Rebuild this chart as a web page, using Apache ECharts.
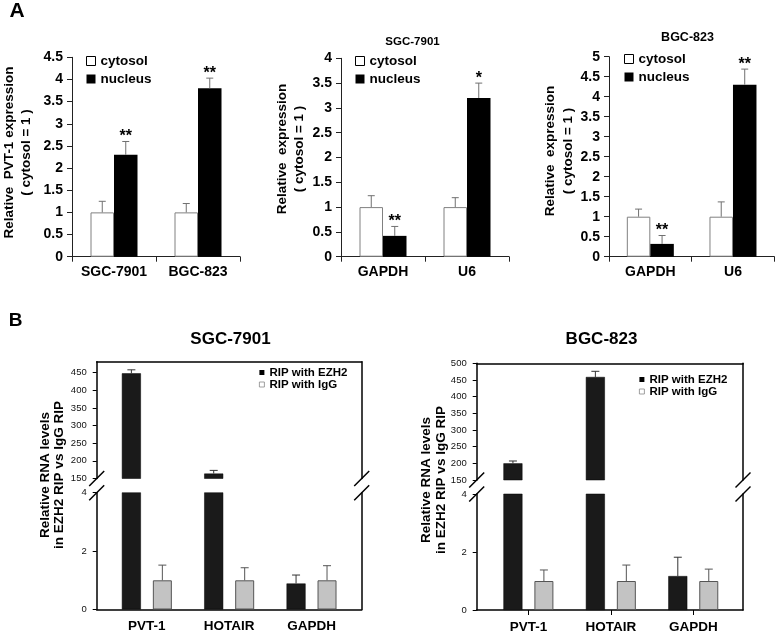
<!DOCTYPE html>
<html><head><meta charset="utf-8">
<script src="https://cdn.jsdelivr.net/npm/echarts@6/dist/echarts.min.js"></script>
<style>html,body{margin:0;padding:0;background:#fff}#c{width:778px;height:637px}</style>
</head><body><div id="c"></div>
<script>
// ---------- Panel A (left): PVT-1 ----------
var a1Categories = ['SGC-7901', 'BGC-823'];
var a1Cytosol = [1, 1];
var a1CytosolErr = [0.25, 0.2];
var a1Nucleus = [2.3, 3.8];
var a1NucleusErr = [0.3, 0.23];
var a1Stars = ['**', '**'];
var a1YTicks = [0, 0.5, 1, 1.5, 2, 2.5, 3, 3.5, 4, 4.5];

// ---------- Panel A (middle): SGC-7901 ----------
var a2Categories = ['GAPDH', 'U6'];
var a2Cytosol = [1, 1];
var a2CytosolErr = [0.23, 0.19];
var a2Nucleus = [0.42, 3.2];
var a2NucleusErr = [0.19, 0.3];
var a2Stars = ['**', '*'];
var a2YTicks = [0, 0.5, 1, 1.5, 2, 2.5, 3, 3.5, 4];

// ---------- Panel A (right): BGC-823 ----------
var a3Categories = ['GAPDH', 'U6'];
var a3Cytosol = [1, 1];
var a3CytosolErr = [0.19, 0.37];
var a3Nucleus = [0.32, 4.3];
var a3NucleusErr = [0.21, 0.39];
var a3Stars = ['**', '**'];
var a3YTicks = [0, 0.5, 1, 1.5, 2, 2.5, 3, 3.5, 4, 4.5, 5];

// ---------- Panel B (left): SGC-7901 RIP ----------
var b1Categories = ['PVT-1', 'HOTAIR', 'GAPDH'];
var b1Ezh2 = [448, 164, 0.89];
var b1Ezh2Err = [10, 9, 0.29];
var b1IgG = [1, 1, 1];
var b1IgGErr = [0.52, 0.43, 0.5];
var b1UpperTicks = [150, 200, 250, 300, 350, 400, 450];
var b1UpperMax = 481;
var b1LowerTicks = [0, 2, 4];

// ---------- Panel B (right): BGC-823 RIP ----------
var b2Categories = ['PVT-1', 'HOTAIR', 'GAPDH'];
var b2Ezh2 = [200, 459, 1.17];
var b2Ezh2Err = [7, 17, 0.65];
var b2IgG = [1, 1, 1];
var b2IgGErr = [0.38, 0.55, 0.41];
var b2UpperTicks = [150, 200, 250, 300, 350, 400, 450, 500];
var b2UpperMax = 500;
var b2LowerTicks = [0, 2, 4];

var FONT = "'Liberation Sans', Arial, Helvetica, sans-serif";
var option = {
  backgroundColor: '#fff', animation: false,
  grid: [], xAxis: [], yAxis: [], series: [], legend: [], graphic: []
};

function addGrid(r) {
  option.grid.push(Object.assign({ containLabel: false, outerBoundsMode: 'none', show: false }, r));
  return option.grid.length - 1;
}

function errorSeries(xi, yi, data, stars, o) {
  return {
    type: 'custom', xAxisIndex: xi, yAxisIndex: yi, data: data, silent: true, z: 5,
    renderItem: function (params, api) {
      var c = api.value(0), v = api.value(1), t = api.value(2), side = api.value(3);
      var b = api.coord([c, v]), e = api.coord([c, t]);
      var x = b[0] + side * o.offset;
      var col = side < 0 ? o.colors[0] : o.colors[1];
      var ch = [
        { type: 'line', shape: { x1: x, y1: b[1], x2: x, y2: e[1] }, style: { stroke: col, lineWidth: 1 } },
        { type: 'line', shape: { x1: x - o.cap / 2, y1: e[1], x2: x + o.cap / 2, y2: e[1] }, style: { stroke: col, lineWidth: 1 } }
      ];
      var s = stars && stars[params.dataIndex];
      if (s) {
        ch.push({ type: 'text', x: x, y: e[1] - o.starGap,
          style: { text: s, fill: '#000', font: 'bold ' + o.starSize + 'px ' + FONT,
                   align: 'center', verticalAlign: 'middle', textAlign: 'center', textVerticalAlign: 'middle' } });
      }
      return { type: 'group', children: ch };
    }
  };
}

function panelA(p) {
  var g = addGrid(p.rect);
  var xi = option.xAxis.length;
  option.xAxis.push({
    type: 'category', gridIndex: g, data: p.cats,
    axisLine: { lineStyle: { color: '#222', width: 1 } },
    axisTick: { show: true, length: 5, lineStyle: { color: '#222' } },
    axisLabel: { interval: 0, hideOverlap: false, fontFamily: FONT, fontWeight: 'bold', fontSize: 14, color: '#000', margin: 8 }
  });
  var yi = option.yAxis.length;
  option.yAxis.push({
    type: 'value', gridIndex: g, min: p.ticks[0], max: p.ticks[p.ticks.length - 1],
    interval: p.ticks[1] - p.ticks[0], splitLine: { show: false },
    axisLine: { show: true, lineStyle: { color: '#222', width: 1 } },
    axisTick: { show: true, length: 5, lineStyle: { color: '#222' } },
    axisLabel: { fontFamily: FONT, fontWeight: 'bold', fontSize: 14, color: '#000', margin: 9 }
  });
  var bw = 23.5;
  option.series.push({ type: 'bar', name: 'cytosol', xAxisIndex: xi, yAxisIndex: yi, data: p.cyt,
    barWidth: bw, barGap: '0%', itemStyle: { color: '#fff', borderColor: '#808080', borderWidth: 1 } });
  option.series.push({ type: 'bar', name: 'nucleus', xAxisIndex: xi, yAxisIndex: yi, data: p.nuc,
    barWidth: bw, barGap: '0%', itemStyle: { color: '#000' } });
  var errData = [], stars = [];
  p.cats.forEach(function (c, i) {
    errData.push([i, p.cyt[i], p.cyt[i] + p.cytErr[i], -1]); stars.push('');
    errData.push([i, p.nuc[i], p.nuc[i] + p.nucErr[i], 1]); stars.push(p.stars[i]);
  });
  option.series.push(errorSeries(xi, yi, errData, stars,
    { offset: bw / 2, cap: 7, colors: ['#707070', '#707070'], starSize: 16, starGap: 5 }));
  option.legend.push({
    orient: 'vertical', left: p.legend[0], top: p.legend[1], padding: 0,
    itemWidth: 9, itemHeight: 9, itemGap: 4, selectedMode: false,
    data: [
      { name: 'cytosol', icon: 'rect', itemStyle: { color: '#fff', borderColor: '#000', borderWidth: 1 } },
      { name: 'nucleus', icon: 'rect', itemStyle: { color: '#000' } }
    ],
    textStyle: { fontFamily: FONT, fontWeight: 'bold', fontSize: 13.5, color: '#000', lineHeight: 14 }
  });
}

function panelB(p) {
  var f = p.frame;
  var W = f.right - f.left;
  var innerL = f.left + p.padL, innerW = W - p.padL - p.padR;
  var upH = f.upBottom - f.upTop, lowH = f.lowBottom - f.lowTop;
  var upMin = p.upperTicks[0], lowMax = p.lowerTicks[p.lowerTicks.length - 1];
  var frameLine = { show: true, lineStyle: { color: '#000', width: 1.5 } };
  var tickLabel = { fontFamily: FONT, fontSize: 9.5, color: '#111', margin: 10 };

  var gFU = addGrid({ left: f.left, top: f.upTop, width: W, height: upH });
  var gFL = addGrid({ left: f.left, top: f.lowTop, width: W, height: lowH });
  var gBU = addGrid({ left: innerL, top: f.upTop, width: innerW, height: upH });
  var gBL = addGrid({ left: innerL, top: f.lowTop, width: innerW, height: lowH });

  // frame axes (upper)
  option.xAxis.push({ type: 'value', gridIndex: gFU, position: 'top', min: 0, max: 1,
    axisLine: frameLine, axisTick: { show: false }, axisLabel: { show: false }, splitLine: { show: false } });
  option.yAxis.push({ type: 'value', gridIndex: gFU, min: upMin, max: p.upperMax, interval: 50,
    axisLine: frameLine, splitLine: { show: false },
    axisTick: { show: true, length: 4, customValues: p.upperTicks, lineStyle: { color: '#000' } },
    axisLabel: Object.assign({ customValues: p.upperTicks }, tickLabel) });
  option.yAxis.push({ type: 'value', gridIndex: gFU, position: 'right', min: upMin, max: p.upperMax,
    axisLine: frameLine, axisTick: { show: false }, axisLabel: { show: false }, splitLine: { show: false } });
  // frame axes (lower)
  option.xAxis.push({ type: 'value', gridIndex: gFL, position: 'bottom', min: 0, max: 1,
    axisLine: frameLine, axisTick: { show: false }, axisLabel: { show: false }, splitLine: { show: false } });
  option.yAxis.push({ type: 'value', gridIndex: gFL, min: p.lowerTicks[0], max: lowMax,
    interval: p.lowerTicks[1] - p.lowerTicks[0],
    axisLine: frameLine, splitLine: { show: false },
    axisTick: { show: true, length: 4, lineStyle: { color: '#000' } }, axisLabel: tickLabel });
  option.yAxis.push({ type: 'value', gridIndex: gFL, position: 'right', min: p.lowerTicks[0], max: lowMax,
    axisLine: frameLine, axisTick: { show: false }, axisLabel: { show: false }, splitLine: { show: false } });

  // bar axes
  var xU = option.xAxis.length;
  option.xAxis.push({ type: 'category', gridIndex: gBU, data: p.cats, show: false });
  var xL = option.xAxis.length;
  option.xAxis.push({ type: 'category', gridIndex: gBL, data: p.cats, position: 'bottom',
    axisLine: { show: false },
    axisTick: { show: p.xTicks, alignWithLabel: true, length: 5, lineStyle: { color: '#000' } },
    axisLabel: { interval: 0, fontFamily: FONT, fontWeight: 'bold', fontSize: 13.5, color: '#000', margin: 10 } });
  var yU = option.yAxis.length;
  option.yAxis.push({ type: 'value', gridIndex: gBU, min: upMin, max: p.upperMax, show: false, splitLine: { show: false } });
  var yL = option.yAxis.length;
  option.yAxis.push({ type: 'value', gridIndex: gBL, min: p.lowerTicks[0], max: lowMax, show: false, splitLine: { show: false } });

  var bw = 19, gapRatio = 0.63;
  var ezStyle = { color: '#1a1a1a', borderColor: '#000', borderWidth: 0.5 };
  var igStyle = { color: '#c3c3c3', borderColor: '#555', borderWidth: 1 };
  var common = { barWidth: bw, barGap: (gapRatio * 100) + '%', clip: true };
  option.series.push(Object.assign({ type: 'bar', name: 'RIP with EZH2', xAxisIndex: xU, yAxisIndex: yU,
    data: p.ezh2.map(function (v) { return v >= upMin ? v : '-'; }), itemStyle: ezStyle }, common));
  option.series.push(Object.assign({ type: 'bar', name: 'RIP with IgG', xAxisIndex: xU, yAxisIndex: yU,
    data: p.igg.map(function (v) { return v >= upMin ? v : '-'; }), itemStyle: igStyle }, common));
  option.series.push(Object.assign({ type: 'bar', name: 'RIP with EZH2', xAxisIndex: xL, yAxisIndex: yL,
    data: p.ezh2.slice(), itemStyle: ezStyle }, common));
  option.series.push(Object.assign({ type: 'bar', name: 'RIP with IgG', xAxisIndex: xL, yAxisIndex: yL,
    data: p.igg.slice(), itemStyle: igStyle }, common));

  var off = bw * (1 + gapRatio) / 2;
  var upErr = [], lowErr = [];
  p.cats.forEach(function (c, i) {
    if (p.ezh2[i] >= upMin) upErr.push([i, p.ezh2[i], p.ezh2[i] + p.ezh2Err[i], -1]);
    if (p.ezh2[i] <= lowMax) lowErr.push([i, p.ezh2[i], p.ezh2[i] + p.ezh2Err[i], -1]);
    if (p.igg[i] >= upMin) upErr.push([i, p.igg[i], p.igg[i] + p.iggErr[i], 1]);
    if (p.igg[i] <= lowMax) lowErr.push([i, p.igg[i], p.igg[i] + p.iggErr[i], 1]);
  });
  var eo = { offset: off, cap: 8, colors: ['#333', '#555'] };
  option.series.push(errorSeries(xU, yU, upErr, null, eo));
  option.series.push(errorSeries(xL, yL, lowErr, null, eo));

  option.legend.push({
    orient: 'vertical', left: p.legend[0], top: p.legend[1], padding: 0,
    itemWidth: 5, itemHeight: 5, itemGap: 0, selectedMode: false,
    data: [
      { name: 'RIP with EZH2', icon: 'rect', itemStyle: { color: '#000', borderWidth: 0 } },
      { name: 'RIP with IgG', icon: 'rect', itemStyle: { color: '#fff', borderColor: '#888', borderWidth: 0.8 } }
    ],
    textStyle: { fontFamily: FONT, fontWeight: 'bold', fontSize: 11.5, color: '#000', lineHeight: 12 }
  });

  // axis break marks (decoration on both frame sides)
  [f.left, f.right].forEach(function (x) {
    [f.upBottom, f.lowTop].forEach(function (y) {
      option.graphic.push({ type: 'line', silent: true,
        shape: { x1: x - 7.5, y1: y + 7.5, x2: x + 7.5, y2: y - 7.5 },
        style: { stroke: '#000', lineWidth: 1.5 } });
    });
  });
}

function addText(txt, x, y, size, opts) {
  opts = opts || {};
  option.graphic.push({
    type: 'text', x: x, y: y, rotation: opts.rotate ? Math.PI / 2 : 0, silent: true,
    style: { text: txt, fill: '#000', font: (opts.weight || 'bold') + ' ' + size + 'px ' + FONT,
             textAlign: 'center', textVerticalAlign: 'middle', align: 'center', verticalAlign: 'middle',
             lineHeight: opts.lh || size * 1.2 }
  });
}

panelA({ cats: a1Categories, cyt: a1Cytosol, cytErr: a1CytosolErr, nuc: a1Nucleus, nucErr: a1NucleusErr,
  stars: a1Stars, ticks: a1YTicks, rect: { left: 72, top: 57.3, width: 168, height: 199.4 }, legend: [86, 54] });
panelA({ cats: a2Categories, cyt: a2Cytosol, cytErr: a2CytosolErr, nuc: a2Nucleus, nucErr: a2NucleusErr,
  stars: a2Stars, ticks: a2YTicks, rect: { left: 341, top: 58.3, width: 168, height: 198.4 }, legend: [355, 54] });
panelA({ cats: a3Categories, cyt: a3Cytosol, cytErr: a3CytosolErr, nuc: a3Nucleus, nucErr: a3NucleusErr,
  stars: a3Stars, ticks: a3YTicks, rect: { left: 609, top: 56.7, width: 165.3, height: 200 }, legend: [624, 52] });

panelB({ cats: b1Categories, ezh2: b1Ezh2, ezh2Err: b1Ezh2Err, igg: b1IgG, iggErr: b1IgGErr,
  upperTicks: b1UpperTicks, upperMax: b1UpperMax, lowerTicks: b1LowerTicks, xTicks: false,
  frame: { left: 96.7, right: 361.7, upTop: 361.7, upBottom: 478.5, lowTop: 492.7, lowBottom: 609.5 },
  padL: 9, padR: 9, legend: [259, 366.5] });
panelB({ cats: b2Categories, ezh2: b2Ezh2, ezh2Err: b2Ezh2Err, igg: b2IgG, iggErr: b2IgGErr,
  upperTicks: b2UpperTicks, upperMax: b2UpperMax, lowerTicks: b2LowerTicks, xTicks: true,
  frame: { left: 476.7, right: 743, upTop: 363.3, upBottom: 480, lowTop: 494, lowBottom: 610 },
  padL: 10.5, padR: 8.5, legend: [639, 373.5] });

// panel letters and titles
addText('A', 17, 11.5, 21);
addText('B', 15.5, 321, 19);
addText('SGC-7901', 412.5, 42, 11.5);
addText('BGC-823', 687.5, 37.5, 12.5);
addText('SGC-7901', 230.5, 339, 17);
addText('BGC-823', 601.5, 339, 17);
// y-axis titles
addText('Relative  PVT-1 expression\n( cytosol = 1 )', 17.75, 152.5, 13.5, { rotate: true, lh: 16.5 });
addText('Relative  expression\n( cytosol = 1 )', 291, 149, 13.5, { rotate: true, lh: 17 });
addText('Relative  expression\n( cytosol = 1 )', 559, 151, 13.5, { rotate: true, lh: 18 });
addText('Relative RNA levels\nin EZH2 RIP vs IgG RIP', 52, 475, 13.5, { rotate: true, lh: 14 });
addText('Relative RNA levels\nin EZH2 RIP vs IgG RIP', 433.5, 480, 13.5, { rotate: true, lh: 15 });

var chart = echarts.init(document.getElementById('c'), null, { renderer: 'canvas' });
chart.setOption(option);
</script>
</body></html>
